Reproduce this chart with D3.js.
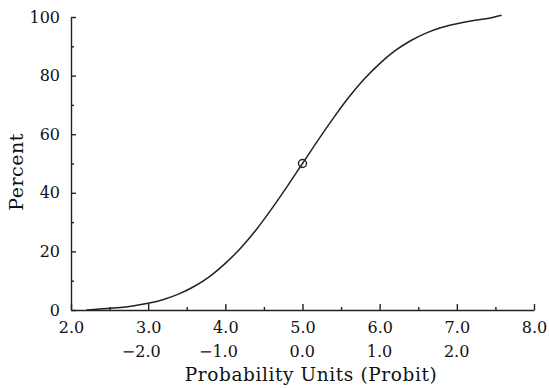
<!DOCTYPE html>
<html>
<head>
<meta charset="utf-8">
<script src="https://cdn.jsdelivr.net/npm/d3@7"></script>
<style>
  body { margin: 0; background: #fff; }
  text { font-family: "DejaVu Serif", serif; fill: #111; }
</style>
</head>
<body>
<svg id="chart" width="549" height="388"></svg>
<script>
// values
const probit = [2.2, 2.4, 2.6, 2.8, 3.0, 3.2, 3.4, 3.6, 3.8, 4.0, 4.2, 4.4, 4.6, 4.8, 5.0,
                5.2, 5.4, 5.6, 5.8, 6.0, 6.2, 6.4, 6.6, 6.8, 7.0, 7.2, 7.4, 7.58];
const percent = [0.0, 0.4, 0.8, 1.4, 2.3, 3.6, 5.5, 8.1, 11.5, 15.9, 21.2, 27.4, 34.5, 42.1, 50.0,
                 57.9, 65.5, 72.6, 78.8, 84.1, 88.5, 91.9, 94.5, 96.4, 97.7, 98.7, 99.5, 100.6];
const marker = { x: 5.0, y: 50 };

const xTicks = [2, 3, 4, 5, 6, 7, 8];
const xMinor = [2.5, 3.5, 4.5, 5.5, 6.5, 7.5];
const xTicks2 = [3, 4, 5, 6, 7];
const xLabels2 = ['\u22122.0', '\u22121.0', '0.0', '1.0', '2.0'];
const yTicks = [0, 20, 40, 60, 80, 100];
const yMinor = [10, 30, 50, 70, 90];

const svg = d3.select('#chart');

const x = d3.scaleLinear().domain([2, 8]).range([71, 534]);
const y = d3.scaleLinear().domain([0, 100]).range([310, 17]);

// X axis (ticks point inward)
svg.append('g')
  .attr('transform', `translate(0,${y(0)})`)
  .call(d3.axisBottom(x).tickValues(xTicks).tickFormat(d3.format('.1f'))
    .tickSizeInner(-6).tickSizeOuter(0).tickPadding(12));
svg.append('g')
  .attr('transform', `translate(0,${y(0)})`)
  .call(d3.axisBottom(x).tickValues(xMinor).tickFormat('')
    .tickSizeInner(-3).tickSizeOuter(0))
  .select('.domain').remove();

// Y axis
svg.append('g')
  .attr('transform', `translate(${x(2)},0)`)
  .call(d3.axisLeft(y).tickValues(yTicks)
    .tickSizeInner(-5).tickSizeOuter(0).tickPadding(11));
svg.append('g')
  .attr('transform', `translate(${x(2)},0)`)
  .call(d3.axisLeft(y).tickValues(yMinor).tickFormat('')
    .tickSizeInner(-3).tickSizeOuter(0))
  .select('.domain').remove();

svg.selectAll('.domain, .tick line')
  .attr('stroke', '#222')
  .attr('stroke-width', 1.4);
svg.selectAll('.tick text')
  .style('font-size', '16px')
  .style('font-family', '"DejaVu Serif", serif')
  .attr('fill', '#111');

// second row of x labels (probit - 5), right-aligned under the first row
const half = 12.5;
svg.append('g')
  .selectAll('text')
  .data(xTicks2)
  .enter()
  .append('text')
  .attr('x', d => x(d) + half)
  .attr('y', 357)
  .attr('text-anchor', 'end')
  .style('font-size', '16px')
  .text((d, i) => xLabels2[i]);

// axis titles
svg.append('text')
  .attr('x', 311)
  .attr('y', 381)
  .attr('text-anchor', 'middle')
  .style('font-size', '18.5px')
  .style('letter-spacing', '0.6px')
  .text('Probability Units (Probit)');

svg.append('text')
  .attr('transform', `translate(23,172) rotate(-90)`)
  .attr('text-anchor', 'middle')
  .style('font-size', '19px')
  .style('letter-spacing', '0.5px')
  .text('Percent');

// curve
const pts = probit.map((p, i) => ({ x: p, y: percent[i] }));
const line = d3.line()
  .x(d => x(d.x))
  .y(d => y(d.y))
  .curve(d3.curveMonotoneX);

svg.append('path')
  .datum(pts)
  .attr('fill', 'none')
  .attr('stroke', '#222')
  .attr('stroke-width', 1.5)
  .attr('d', line);

svg.append('circle')
  .attr('cx', x(marker.x))
  .attr('cy', y(marker.y))
  .attr('r', 4)
  .attr('fill', 'none')
  .attr('stroke', '#222')
  .attr('stroke-width', 1.4);
</script>
</body>
</html>
